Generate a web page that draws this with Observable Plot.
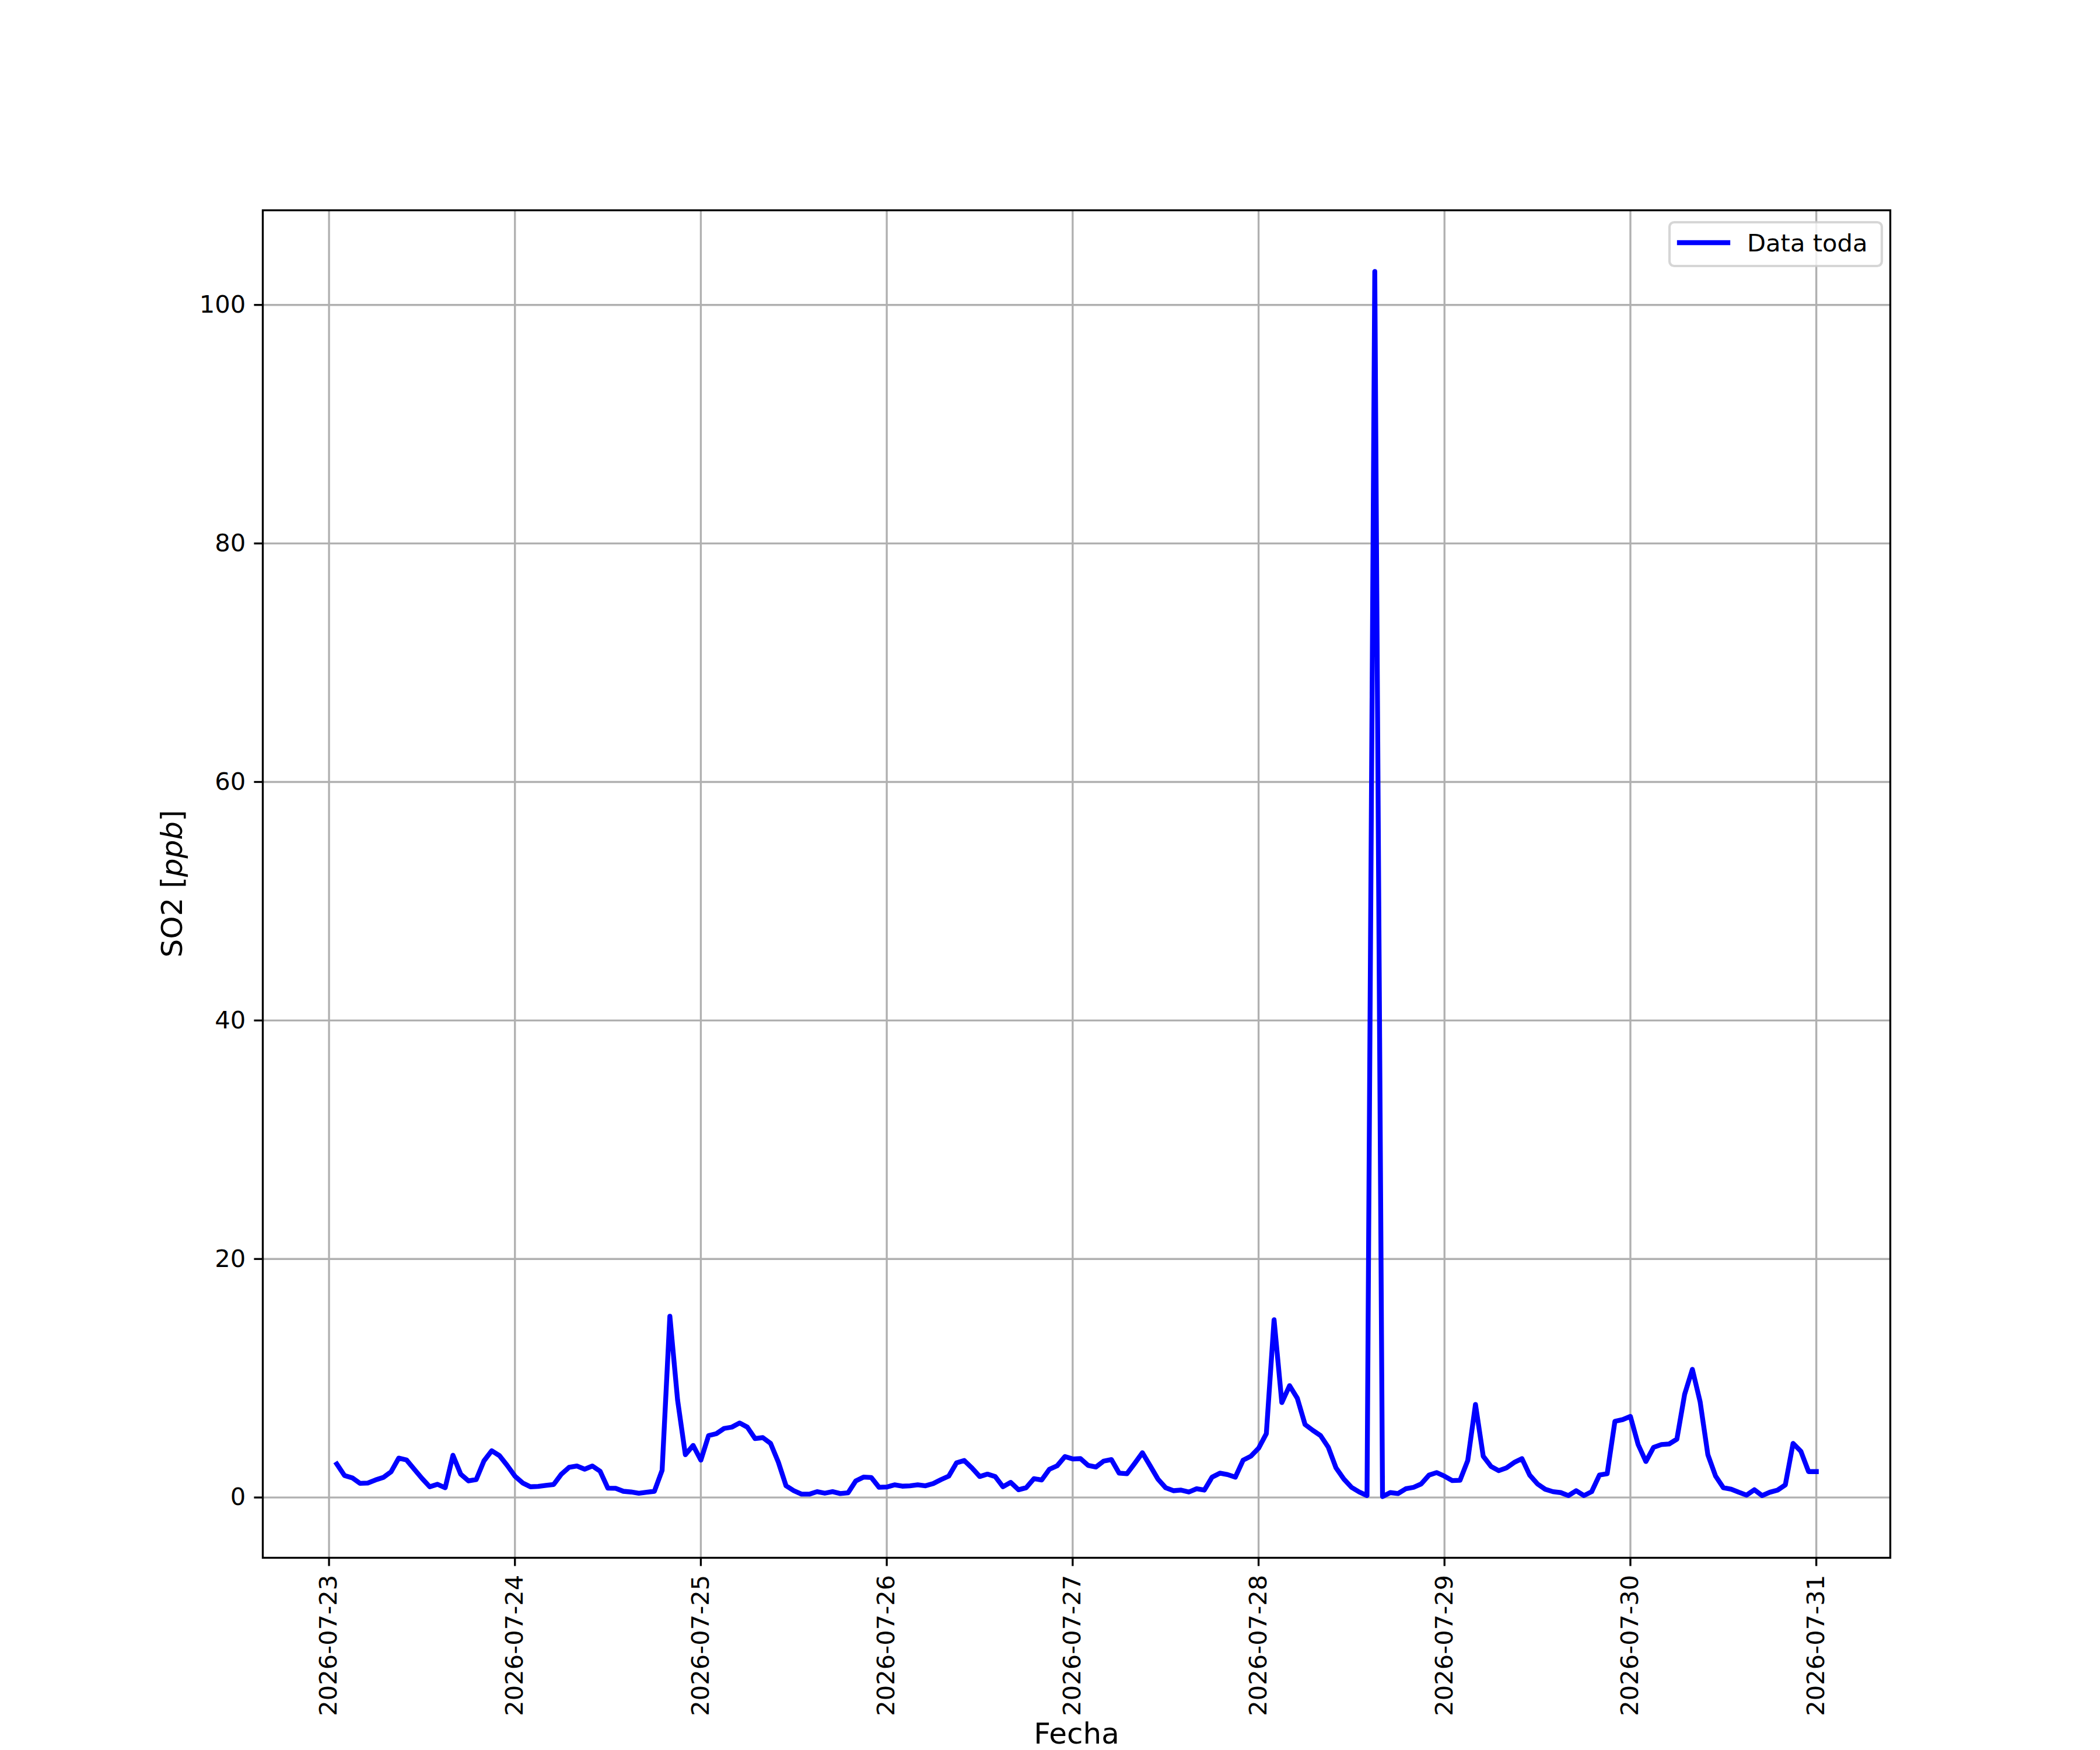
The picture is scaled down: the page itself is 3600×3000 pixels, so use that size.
<!DOCTYPE html>
<html>
<head>
<meta charset="utf-8">
<script src="https://cdn.jsdelivr.net/npm/d3@7"></script>
<script src="https://cdn.jsdelivr.net/npm/@observablehq/plot@0.6"></script>
<style>
  html, body { margin: 0; padding: 0; background: #fff; }
  #chart { width: 3600px; height: 3000px; }
</style>
</head>
<body>
<div id="chart"></div>
<script>
// Hourly SO2 values (ppb), one array per day
const so2_0723 = [2.81,1.84,1.65,1.19,1.21,1.47,1.68,2.15,3.30,3.15,2.37,1.60,0.90,1.11,0.82,3.54,1.96,1.39,1.50,3.07,3.92,3.51,2.69];
const so2_0724 = [1.79,1.22,0.90,0.93,1.01,1.09,1.96,2.53,2.64,2.37,2.64,2.20,0.78,0.77,0.52,0.46,0.36,0.44,0.52,2.28,15.2,8.16,3.59,4.37];
const so2_0725 = [3.13,5.19,5.35,5.79,5.90,6.25,5.90,4.94,5.02,4.54,2.97,0.98,0.57,0.28,0.28,0.49,0.36,0.49,0.33,0.39,1.39,1.71,1.68,0.86];
const so2_0726 = [0.88,1.06,0.95,0.98,1.06,0.98,1.17,1.50,1.79,2.90,3.10,2.48,1.76,1.96,1.76,0.90,1.27,0.65,0.82,1.58,1.47,2.37,2.66,3.43];
const so2_0727 = [3.23,3.26,2.69,2.56,3.05,3.18,2.04,1.99,2.85,3.75,2.66,1.55,0.82,0.57,0.62,0.46,0.73,0.62,1.71,2.04,1.92,1.71,3.13,3.46];
const so2_0728 = [4.13,5.35,14.9,7.96,9.38,8.32,6.12,5.63,5.19,4.21,2.48,1.55,0.85,0.46,0.16,102.8,0.08,0.41,0.33,0.73,0.85,1.14,1.88,2.09];
const so2_0729 = [1.79,1.42,1.44,3.10,7.8,3.46,2.61,2.25,2.48,2.94,3.26,1.88,1.14,0.69,0.49,0.41,0.16,0.57,0.16,0.49,1.88,1.99,6.39,6.53];
const so2_0730 = [6.80,4.44,3.02,4.21,4.44,4.49,4.89,8.65,10.75,8.03,3.59,1.79,0.82,0.70,0.44,0.20,0.65,0.16,0.44,0.62,1.06,4.54,3.88,2.17];
const so2_0731 = [2.17];

// Days (x tick labels) and first hour of each day's array
const days = ["2026-07-23","2026-07-24","2026-07-25","2026-07-26","2026-07-27","2026-07-28","2026-07-29","2026-07-30","2026-07-31"];
const firstHour = [1,0,0,0,0,0,0,0,0];
const yTicks = [0,20,40,60,80,100];
const seriesName = "Data toda";
const xLabel = "Fecha";
const yLabelMain = "SO2 [";
const yLabelUnit = "ppb";
const yLabelEnd = "]";

const dayArrays = [so2_0723,so2_0724,so2_0725,so2_0726,so2_0727,so2_0728,so2_0729,so2_0730,so2_0731];
const data = [];
dayArrays.forEach((arr, di) => {
  const base = Date.parse(days[di] + "T00:00:00Z");
  arr.forEach((v, k) => data.push({date: new Date(base + (firstHour[di] + k) * 3600e3), value: v}));
});
const dayDates = days.map(d => new Date(d + "T00:00:00Z"));

// matplotlib-like 5% autoscale margins
const [t0, t1] = d3.extent(data, d => d.date);
const tp = (t1 - t0) * 0.05;
const [v0, v1] = d3.extent(data, d => d.value);
const vp = (v1 - v0) * 0.05;

const PT = 300 / 72; // px per point at 300 dpi
const tickFont = 10 * PT, labelFont = 12 * PT;

const plot = Plot.plot({
  width: 3600,
  height: 3000,
  marginLeft: 450,
  marginRight: 360,
  marginTop: 360,
  marginBottom: 330,
  style: {fontFamily: "'DejaVu Sans', sans-serif", fontSize: tickFont + "px", background: "#fff", color: "#000"},
  x: {type: "utc", domain: [new Date(+t0 - tp), new Date(+t1 + tp)]},
  y: {domain: [v0 - vp, v1 + vp]},
  marks: [
    Plot.gridX(dayDates, {stroke: "#b0b0b0", strokeOpacity: 1, strokeWidth: 0.8 * PT}),
    Plot.gridY(yTicks, {stroke: "#b0b0b0", strokeOpacity: 1, strokeWidth: 0.8 * PT}),
    Plot.lineY(data, {x: "date", y: "value", stroke: "#0000ff", strokeWidth: 2 * PT, strokeLinejoin: "round", strokeLinecap: "square"}),
    Plot.axisX(dayDates, {
      tickFormat: d3.utcFormat("%Y-%m-%d"), tickRotate: -90, textAnchor: "end", lineAnchor: "middle",
      tickSize: 3.5 * PT, tickPadding: 3.5 * PT, strokeWidth: 0.8 * PT, label: null, fontSize: tickFont
    }),
    Plot.axisY(yTicks, {
      tickSize: 3.5 * PT, tickPadding: 3.5 * PT, strokeWidth: 0.8 * PT, label: null, fontSize: tickFont
    }),
    Plot.text([xLabel], {text: d => d, frameAnchor: "bottom", dy: 318, lineAnchor: "bottom", fontSize: labelFont}),
    Plot.frame({stroke: "#000", strokeWidth: 0.8 * PT})
  ]
});

document.getElementById("chart").appendChild(plot);

// Y label with italic unit (mathtext style)
const svg = d3.select(plot);
const yl = svg.append("text")
  .attr("transform", "translate(312,1515) rotate(-90)")
  .attr("text-anchor", "middle")
  .attr("font-size", labelFont)
  .attr("fill", "#000");
yl.append("tspan").text(yLabelMain);
yl.append("tspan").attr("font-style", "italic").text(yLabelUnit);
yl.append("tspan").text(yLabelEnd);

// Legend (upper right, inside axes)
const lg = svg.append("g");
lg.append("rect")
  .attr("x", 2862).attr("y", 381).attr("width", 364).attr("height", 75)
  .attr("rx", 8).attr("ry", 8)
  .attr("fill", "#fff").attr("fill-opacity", 0.8)
  .attr("stroke", "#cccccc").attr("stroke-opacity", 0.8).attr("stroke-width", 1.0 * PT);
lg.append("line")
  .attr("x1", 2879).attr("x2", 2962).attr("y1", 416).attr("y2", 416)
  .attr("stroke", "#0000ff").attr("stroke-width", 2 * PT).attr("stroke-linecap", "square");
lg.append("text")
  .attr("x", 2995).attr("y", 431)
  .attr("text-anchor", "start")
  .attr("font-size", tickFont).attr("fill", "#000")
  .text(seriesName);
</script>
</body>
</html>
